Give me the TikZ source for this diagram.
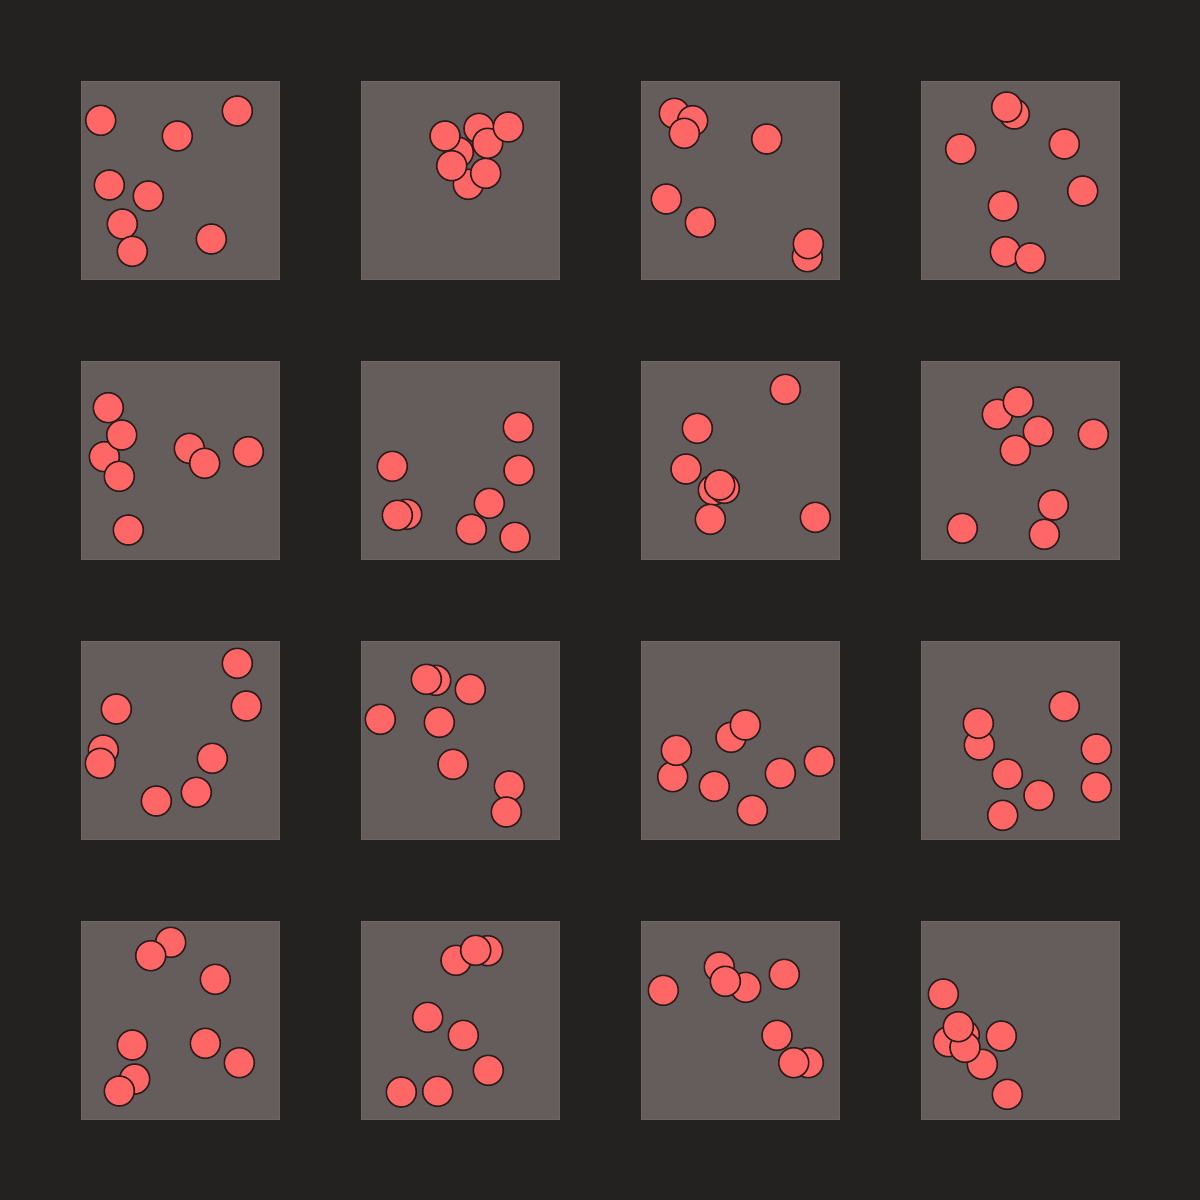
\documentclass[tikz,border=0pt]{standalone}
\definecolor{bgc}{RGB}{36,34,33}
\definecolor{sqc}{RGB}{101,93,92}
\definecolor{sqedge}{RGB}{110,102,101}
\definecolor{dotc}{RGB}{255,102,102}
\definecolor{dotedge}{RGB}{45,28,28}
\tikzset{
  panel/.style={fill=sqc,draw=sqedge,line width=1pt},
  dot/.style={fill=dotc,draw=dotedge,line width=1.6pt}
}
\begin{document}
\begin{tikzpicture}[x=1pt,y=-1pt]
\fill[bgc] (0,0) rectangle (1200,1200);
\useasboundingbox (0,0) rectangle (1200,1200);
\foreach \i in {0,1,2,3}{
  \foreach \j in {0,1,2,3}{
    \draw[panel] ({81+280*\i},{81+280*\j}) rectangle ++(198,198);
  }
}
% row 1
\foreach \x/\y in {100.7/120.3,177.3/136,237.3/111,109.3/185,148.3/196,122.3/224,132.3/251.3,211.3/239}
  \draw[dot] (\x,\y) circle (15);
\foreach \x/\y in {458.3/152.3,445/136,468.3/184.3,451.7/165.7,485.7/173.3,479/128.3,487.7/143.3,508.3/127}
  \draw[dot] (\x,\y) circle (15);
\foreach \x/\y in {674.3/113.3,692.7/120.7,684.3/133.3,766.7/139,666.3/199,700.3/222.3,807.3/256.7,808.3/243.7}
  \draw[dot] (\x,\y) circle (15);
\foreach \x/\y in {1014.3/114,1006.7/107,960.7/149,1064.3/144,1082.7/191,1003.3/206,1005.3/251.7,1030.3/258}
  \draw[dot] (\x,\y) circle (15);
% row 2
\foreach \x/\y in {108.3/407.7,104.3/456.7,121.7/435,119.3/476.3,189.3/448.3,204.7/463.3,248.3/451.7,128.3/530}
  \draw[dot] (\x,\y) circle (15);
\foreach \x/\y in {518.3/427.3,392.3/466.3,519/470.3,489.3/503.3,406.7/514.3,397.3/515.3,471.3/529.3,515/537.3}
  \draw[dot] (\x,\y) circle (15);
\foreach \x/\y in {785.3/389.3,697.3/428.3,686/469,713.3/490,724.3/488.3,719.7/485,710.3/519.3,815.3/517.3}
  \draw[dot] (\x,\y) circle (15);
\foreach \x/\y in {997.3/414.3,1018.3/402,1038.3/431.3,1015.3/450.3,1093.3/434.3,1053.3/505,1044.3/534.3,962.3/528.3}
  \draw[dot] (\x,\y) circle (15);
% row 3
\foreach \x/\y in {237.3/663.3,116.3/709,246.3/706,103.3/750,100.3/763.3,212.3/758.3,196.3/792.3,156.3/801}
  \draw[dot] (\x,\y) circle (15);
\foreach \x/\y in {435.7/680.3,426.3/679.3,470.3/689.3,380.3/719.3,439.3/722.3,453/764.3,509.3/786,506.3/812}
  \draw[dot] (\x,\y) circle (15);
\foreach \x/\y in {731/737.3,745.3/725,672.7/776.7,676.3/750.3,714.3/786.3,780.3/773.3,819.3/761.3,752.3/810.3}
  \draw[dot] (\x,\y) circle (15);
\foreach \x/\y in {1064.3/706.3,979.3/745,978.3/723.3,1096.3/749,1007.3/774,1039/795.3,1096.3/787.3,1002.7/815.3}
  \draw[dot] (\x,\y) circle (15);
% row 4
\foreach \x/\y in {170.7/942.3,150.7/955.7,215.3/979.3,132.3/1045,205.3/1043.3,239.3/1062.7,134.7/1079,119.3/1091}
  \draw[dot] (\x,\y) circle (15);
\foreach \x/\y in {456/960.3,487.7/950.7,475.7/950.3,427.7/1017.3,463.3/1035.3,488.3/1070.3,401.3/1092,437.7/1091.3}
  \draw[dot] (\x,\y) circle (15);
\foreach \x/\y in {663.3/990.3,719.3/967,745.7/987.3,725.3/981.3,784.3/974.3,777/1035.3,808.3/1062.7,793.7/1062.7}
  \draw[dot] (\x,\y) circle (15);
\foreach \x/\y in {943.3/994,982.3/1064.3,964.3/1035,948.3/1041.7,965/1047.3,958.3/1026.7,1001.3/1036,1007.3/1094.3}
  \draw[dot] (\x,\y) circle (15);
\end{tikzpicture}
\end{document}
